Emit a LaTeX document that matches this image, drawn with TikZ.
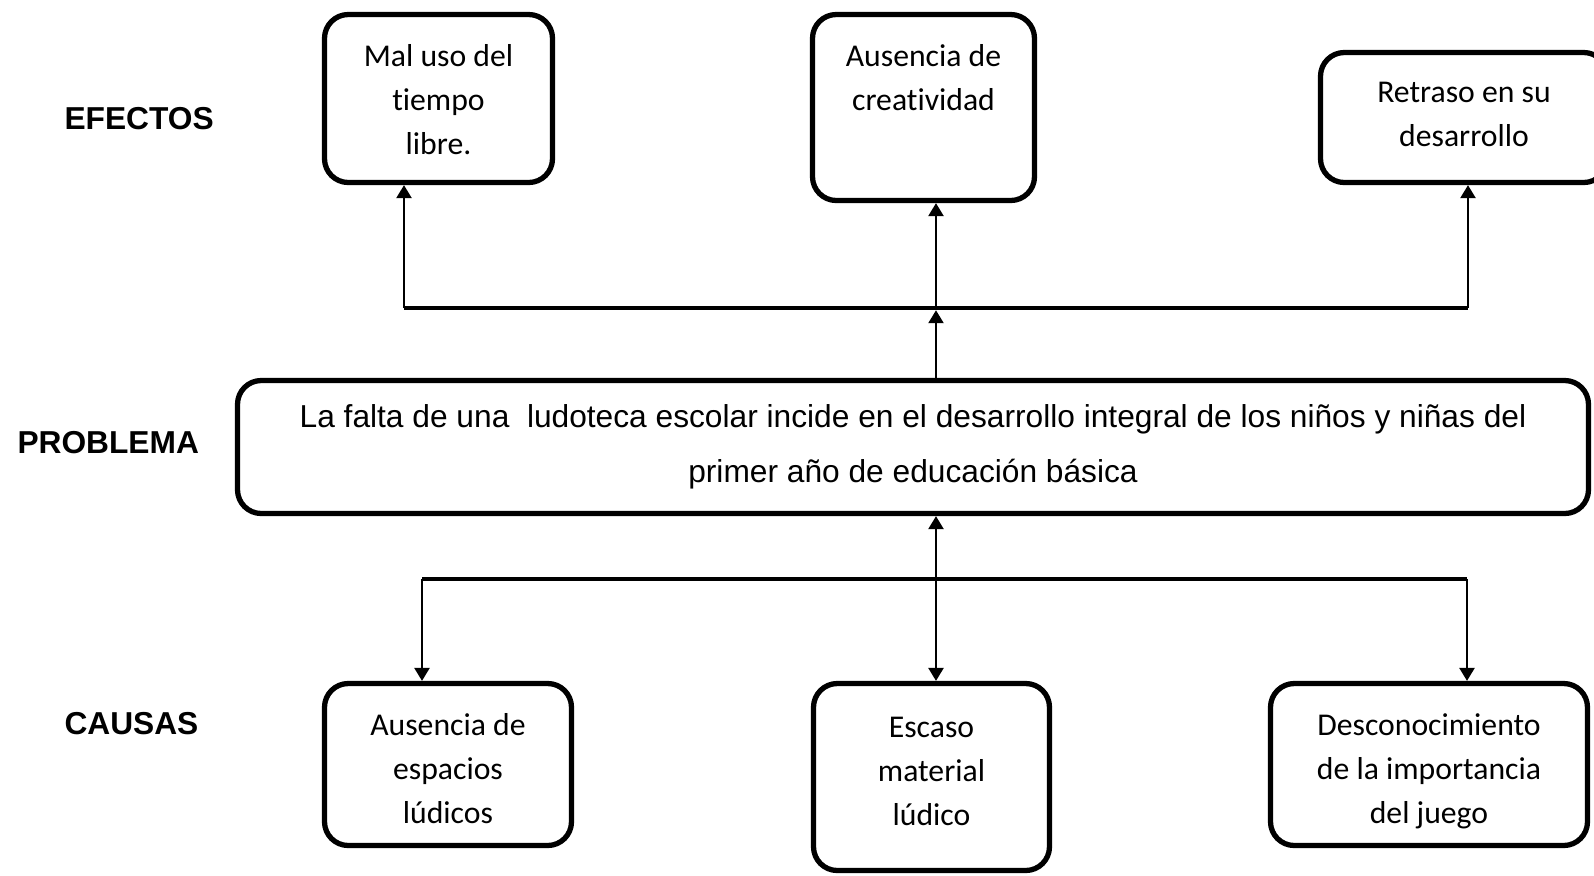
\documentclass[tikz,border=0pt]{standalone}
\usepackage{fontspec}
\setmainfont[Ligatures=NoCommon]{Carlito}
\newfontfamily\arialf{Liberation Sans}
\usetikzlibrary{positioning,arrows.meta}
\newcommand{\pxu}{0.3785pt}
\tikzset{punta/.tip={Triangle[width=5.7pt,length=4.9pt]}}

\begin{document}
\begin{tikzpicture}
	[x=\pxu,y=-\pxu,
	caja/.style={draw,rounded corners=9pt,line width=2pt,inner sep=0pt},
	txt/.style={align=center,inner sep=0pt,font=\fontsize{12}{16.65}\selectfont},
	etiqueta/.style={anchor=west,inner sep=0pt,font=\arialf\bfseries\fontsize{12}{14}\selectfont},
	barra/.style={line width=1.7pt},
	flecha/.style={line width=.8pt,-punta},
	doble/.style={line width=.8pt,punta-punta}]
	\useasboundingbox (0,0) rectangle (1594,875);
	% etiquetas
	\node[etiqueta] (efectos) at (64,119) {EFECTOS};
	\node[etiqueta] (problema) at (17,443) {PROBLEMA};
	\node[etiqueta] (causas) at (64,724) {CAUSAS};
	% efectos
	\node[caja,minimum width=228*\pxu,minimum height=168*\pxu] (mal) at (438.5,98.5) {};
	\node[txt,below=12.1pt of mal.north] (maltxt) {Mal uso del\\tiempo\\libre.};
	\node[caja,minimum width=222*\pxu,minimum height=186*\pxu] (cre) at (923.5,107.5) {};
	\node[txt,below=12.1pt of cre.north] (cretxt) {Ausencia de\\creatividad};
	\node[caja,minimum width=287*\pxu,minimum height=130*\pxu] (ret) at (1464,117.5) {};
	\node[txt,below=12.1pt of ret.north] (rettxt) {Retraso en su\\desarrollo};
	% problema
	\node[caja,minimum width=1351*\pxu,minimum height=133*\pxu,align=center,
		font=\arialf\fontsize{12}{20.8}\selectfont] (prob) at (913,447)
		{La falta de una\ \ ludoteca escolar incide en el desarrollo integral de los niños y niñas del\\primer año de educación básica};
	% causas
	\node[caja,minimum width=247*\pxu,minimum height=162*\pxu] (esp) at (448,764.5) {};
	\node[txt,below=12.1pt of esp.north] (esptxt) {Ausencia de\\espacios\\lúdicos};
	\node[caja,minimum width=236*\pxu,minimum height=187*\pxu] (mat) at (931.5,777) {};
	\node[txt,below=13.4pt of mat.north] (mattxt) {Escaso\\material\\lúdico};
	\node[caja,minimum width=317*\pxu,minimum height=162*\pxu] (des) at (1429,764.5) {};
	\node[txt,below=12.1pt of des.north] (destxt) {Desconocimiento\\de la importancia\\del juego};
	% conectores de efectos
	\coordinate (e1) at (404,308);
	\coordinate (e2) at (936,308);
	\coordinate (e3) at (1468,308);
	\draw[barra] (e1) -- (e3);
	\draw[flecha] (e1) -- (e1 |- mal.south);
	\draw[flecha] (e2) -- (e2 |- cre.south);
	\draw[flecha] (e3) -- (e3 |- ret.south);
	\draw[flecha,shorten >=.85pt] (e2 |- prob.north) -- (e2);
	% conectores de causas
	\coordinate (c1) at (422,579);
	\coordinate (c2) at (936,579);
	\coordinate (c3) at (1467,579);
	\draw[barra] (c1) -- (c3);
	\draw[flecha] (c1) -- (c1 |- esp.north);
	\draw[flecha] (c3) -- (c3 |- des.north);
	\draw[doble] (c2 |- mat.north) -- (c2 |- prob.south);
\end{tikzpicture}
\end{document}
